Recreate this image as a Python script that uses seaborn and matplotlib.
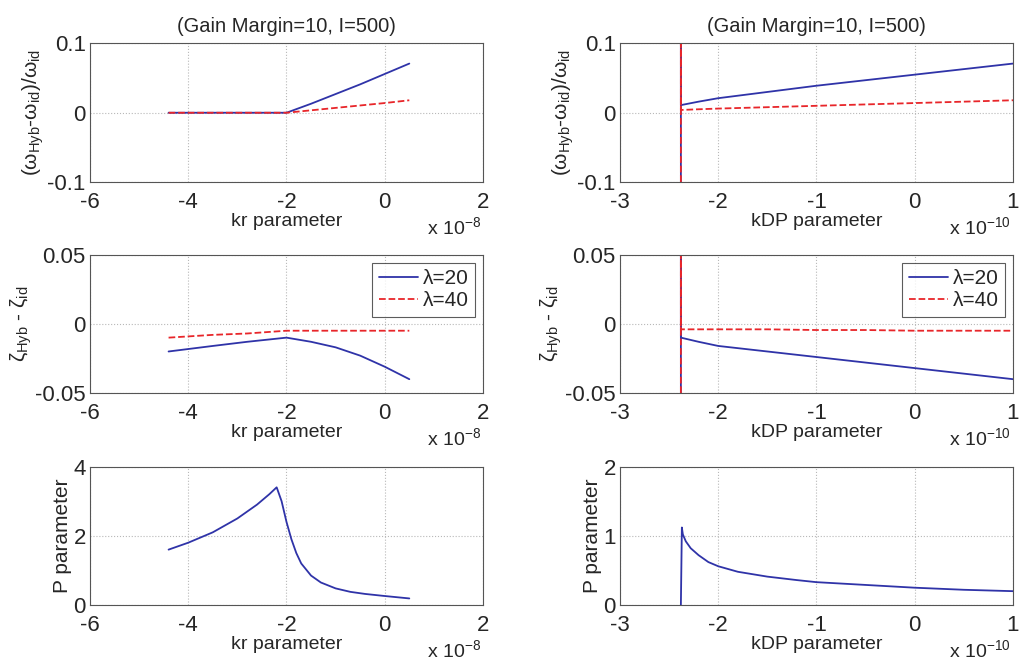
import numpy as np
import pandas as pd
from matplotlib import pyplot as plt
import seaborn as sns

# x values of the left column are in units of 1e-8, right column in 1e-10
kr_w20 = [-4.4, -3.0, -2.0, -1.5, -1.0, -0.5, 0.0, 0.5]
w_kr_l20 = [0.0, 0.0, 0.0, 0.013, 0.027, 0.041, 0.056, 0.071]
kr_w40 = [-4.4, -3.0, -2.0, -1.0, 0.0, 0.5]
w_kr_l40 = [0.0, 0.0, 0.0, 0.007, 0.014, 0.018]

kr_z = [-4.4, -3.5, -2.8, -2.0, -1.5, -1.0, -0.5, 0.0, 0.5]
z_kr_l20 = [-0.020, -0.016, -0.013, -0.010, -0.013, -0.017, -0.023, -0.031, -0.040]
z_kr_l40 = [-0.010, -0.008, -0.007, -0.005, -0.005, -0.005, -0.005, -0.005, -0.005]

kr_p = [-4.4, -4.0, -3.5, -3.0, -2.6, -2.35, -2.2, -2.1, -2.0, -1.9, -1.8, -1.7,
        -1.5, -1.3, -1.0, -0.7, -0.4, 0.0, 0.5]
p_kr = [1.6, 1.8, 2.1, 2.5, 2.9, 3.2, 3.4, 3.0, 2.4, 1.9, 1.5, 1.2,
        0.85, 0.65, 0.48, 0.38, 0.32, 0.26, 0.19]

kdp_w = [-2.38, -2.38, -2.38, -2.2, -2.0, -1.5, -1.0, -0.5, 0.0, 0.5, 1.0]
w_kdp_l20 = [-0.1, 0.1, 0.011, 0.016, 0.021, 0.030, 0.039, 0.047, 0.055, 0.063, 0.071]
w_kdp_l40 = [-0.1, 0.1, 0.004, 0.005, 0.006, 0.008, 0.010, 0.012, 0.014, 0.016, 0.018]

kdp_z = [-2.38, -2.38, -2.38, -2.2, -2.0, -1.5, -1.0, -0.5, 0.0, 0.5, 1.0]
z_kdp_l20 = [-0.05, 0.05, -0.010, -0.013, -0.016, -0.020, -0.024, -0.028, -0.032, -0.036, -0.040]
z_kdp_l40 = [-0.05, 0.05, -0.004, -0.004, -0.004, -0.004, -0.0045, -0.0045, -0.005, -0.005, -0.005]

kdp_p = [-2.38, -2.37, -2.36, -2.33, -2.28, -2.2, -2.1, -2.0, -1.8, -1.5, -1.2,
         -1.0, -0.5, 0.0, 0.5, 1.0]
p_kdp = [0.0, 1.12, 1.02, 0.92, 0.82, 0.72, 0.62, 0.56, 0.48, 0.41, 0.36,
         0.33, 0.29, 0.25, 0.22, 0.20]

title = '(Gain Margin=10, I=500)'
blue = '#2f33a8'
red = '#e8262a'

sns.set_style('whitegrid')
plt.rcParams['font.family'] = ['Liberation Sans', 'DejaVu Sans']
plt.rcParams['axes.unicode_minus'] = False
plt.rcParams['mathtext.fontset'] = 'custom'
plt.rcParams['mathtext.rm'] = 'Liberation Sans'
plt.rcParams['mathtext.it'] = 'Liberation Sans'

fig = plt.figure(figsize=(10.19, 6.61), dpi=100)

col_x = [0.0883, 0.6084]
row_y = [0.7247, 0.4054, 0.0847]
w, h = 0.3857, 0.2095


def style_axis(ax, xlim, xticks, ylim, yticks, xlabel, ylabel, exp):
    ax.set_xlim(xlim)
    ax.set_ylim(ylim)
    ax.set_xticks(xticks)
    ax.set_xticklabels([f'{t:g}' for t in xticks])
    ax.set_yticks(yticks)
    ax.set_yticklabels([f'{t:g}' for t in yticks])
    ax.grid(True, linestyle=':', color='#b8b8b8', linewidth=0.8)
    for s in ax.spines.values():
        s.set_color('#555555')
        s.set_linewidth(0.8)
    ax.tick_params(labelsize=16, direction='in', length=3, color='#555555')
    ax.tick_params(axis='x', pad=7)
    ax.tick_params(axis='y', pad=3)
    ax.set_xlabel(xlabel, fontsize=14, labelpad=0)
    ax.set_ylabel(ylabel, fontsize=15, labelpad=1)
    ax.text(0.995, -0.245, 'x 10$^{' + exp + '}$', transform=ax.transAxes,
            ha='right', va='top', fontsize=14)


def draw(ax, x, y, color, ls, label=None):
    sns.lineplot(x=x, y=y, ax=ax, color=color, linestyle=ls, sort=False,
                 estimator=None, linewidth=1.3, label=label, legend=False)


def add_legend(ax):
    leg = ax.legend(loc='upper right', fontsize=15, frameon=True, fancybox=False,
                    handlelength=1.9, borderaxespad=0.4, handletextpad=0.2,
                    labelspacing=0.15, borderpad=0.3)
    leg.get_frame().set_edgecolor('#333333')
    leg.get_frame().set_linewidth(0.8)


w_lab = '(ω$_{Hyb}$-ω$_{id}$)/ω$_{id}$'
z_lab = 'ζ$_{Hyb}$ - ζ$_{id}$'

# left column: kr
ax = fig.add_axes([col_x[0], row_y[0], w, h])
draw(ax, kr_w20, w_kr_l20, blue, '-')
draw(ax, kr_w40, w_kr_l40, red, '--')
style_axis(ax, (-6, 2), [-6, -4, -2, 0, 2], (-0.1, 0.1), [-0.1, 0, 0.1],
           'kr parameter', w_lab, '-8')
ax.set_title(title, fontsize=14.5, pad=8)

ax = fig.add_axes([col_x[0], row_y[1], w, h])
draw(ax, kr_z, z_kr_l20, blue, '-', 'λ=20')
draw(ax, kr_z, z_kr_l40, red, '--', 'λ=40')
style_axis(ax, (-6, 2), [-6, -4, -2, 0, 2], (-0.05, 0.05), [-0.05, 0, 0.05],
           'kr parameter', z_lab, '-8')
add_legend(ax)

ax = fig.add_axes([col_x[0], row_y[2], w, h])
draw(ax, kr_p, p_kr, blue, '-')
style_axis(ax, (-6, 2), [-6, -4, -2, 0, 2], (0, 4), [0, 2, 4],
           'kr parameter', 'P parameter', '-8')

# right column: kDP
ax = fig.add_axes([col_x[1], row_y[0], w, h])
draw(ax, kdp_w, w_kdp_l20, blue, '-')
draw(ax, kdp_w, w_kdp_l40, red, '--')
style_axis(ax, (-3, 1), [-3, -2, -1, 0, 1], (-0.1, 0.1), [-0.1, 0, 0.1],
           'kDP parameter', w_lab, '-10')
ax.set_title(title, fontsize=14.5, pad=8)

ax = fig.add_axes([col_x[1], row_y[1], w, h])
draw(ax, kdp_z, z_kdp_l20, blue, '-', 'λ=20')
draw(ax, kdp_z, z_kdp_l40, red, '--', 'λ=40')
style_axis(ax, (-3, 1), [-3, -2, -1, 0, 1], (-0.05, 0.05), [-0.05, 0, 0.05],
           'kDP parameter', z_lab, '-10')
add_legend(ax)

ax = fig.add_axes([col_x[1], row_y[2], w, h])
draw(ax, kdp_p, p_kdp, blue, '-')
style_axis(ax, (-3, 1), [-3, -2, -1, 0, 1], (0, 2), [0, 1, 2],
           'kDP parameter', 'P parameter', '-10')

fig.savefig('out.png', dpi=100)
